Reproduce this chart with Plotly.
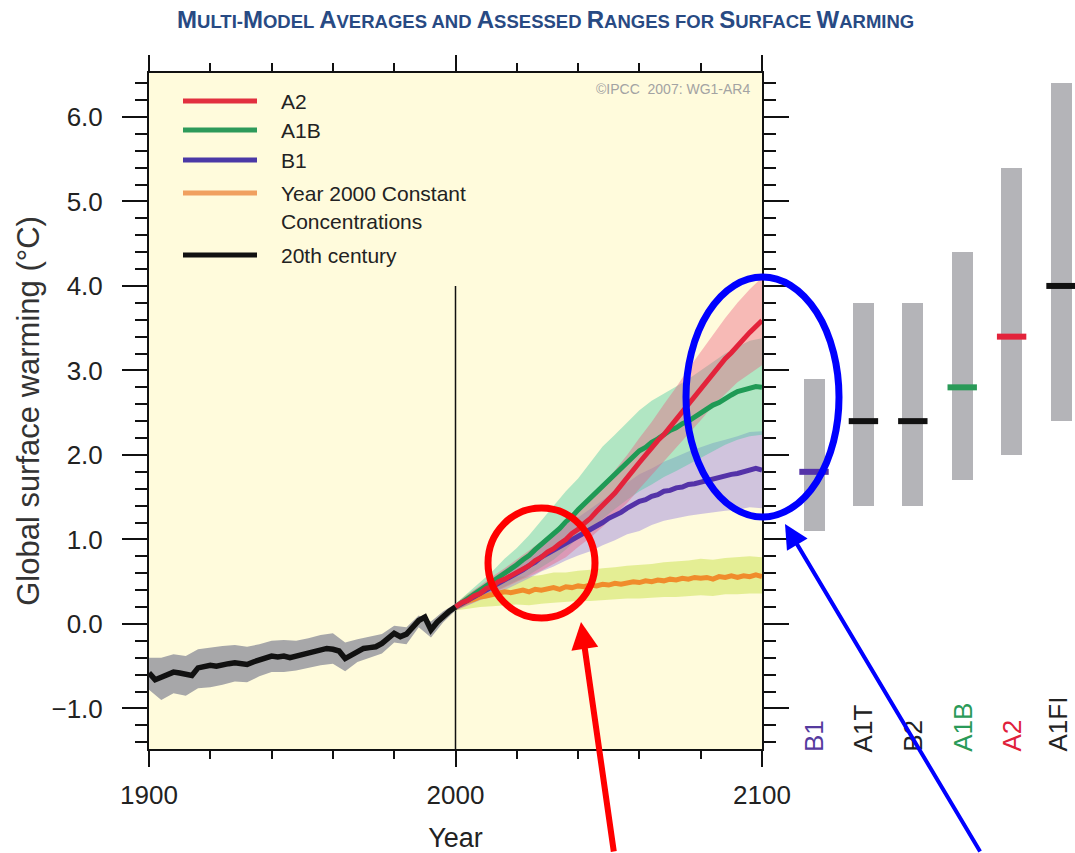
import plotly.graph_objects as go

# ---------------------------------------------------------------- data
# 20th-century model mean (2-year steps) and its spread (4-year steps)
hist_years = list(range(1900, 2001, 2))
hist_mean = [-0.58, -0.66, -0.63, -0.60, -0.57, -0.58, -0.60, -0.61, -0.52, -0.51,
             -0.49, -0.50, -0.48, -0.47, -0.46, -0.47, -0.48, -0.45, -0.43, -0.40,
             -0.38, -0.39, -0.38, -0.40, -0.38, -0.36, -0.35, -0.33, -0.31, -0.29,
             -0.30, -0.32, -0.41, -0.37, -0.33, -0.29, -0.28, -0.27, -0.23, -0.16,
             -0.11, -0.15, -0.12, -0.04, 0.04, 0.08, -0.07, 0.02, 0.09, 0.15, 0.20]
hist_band_years = list(range(1900, 2001, 4))
hist_hi = [-0.40, -0.40, -0.36, -0.38, -0.30, -0.28, -0.26, -0.25, -0.27, -0.24,
           -0.20, -0.19, -0.20, -0.17, -0.13, -0.11, -0.22, -0.18, -0.15, -0.12,
           -0.02, -0.04, 0.10, 0.03, 0.15, 0.24]
hist_lo = [-0.78, -0.90, -0.82, -0.85, -0.76, -0.75, -0.72, -0.68, -0.69, -0.62,
           -0.57, -0.57, -0.55, -0.52, -0.49, -0.47, -0.56, -0.45, -0.40, -0.35,
           -0.22, -0.24, -0.04, -0.16, 0.02, 0.16]

# Scenario projections: means every 2 years, +/-1 sd ranges every 4 years
proj_years = list(range(2000, 2101, 2))
band_years = list(range(2000, 2101, 4))

a2_mean = [0.20, 0.25, 0.28, 0.33, 0.36, 0.42, 0.44, 0.50, 0.53, 0.57,
           0.61, 0.66, 0.69, 0.75, 0.79, 0.85, 0.89, 0.95, 1.00, 1.07,
           1.12, 1.19, 1.25, 1.33, 1.40, 1.48, 1.55, 1.64, 1.72, 1.82,
           1.91, 2.00, 2.08, 2.17, 2.24, 2.33, 2.42, 2.51, 2.60, 2.69,
           2.79, 2.88, 2.97, 3.05, 3.14, 3.21, 3.30, 3.37, 3.45, 3.52, 3.59]
a2_hi = [0.24, 0.35, 0.46, 0.56, 0.66, 0.76, 0.87, 0.98, 1.10, 1.22, 1.34, 1.48, 1.64,
         1.82, 2.00, 2.20, 2.39, 2.60, 2.80, 3.02, 3.22, 3.43, 3.62, 3.80, 3.96, 4.10]
a2_lo = [0.16, 0.22, 0.29, 0.36, 0.43, 0.50, 0.56, 0.63, 0.71, 0.79, 0.91, 1.02, 1.15,
         1.29, 1.43, 1.60, 1.76, 1.92, 2.08, 2.25, 2.41, 2.58, 2.72, 2.86, 2.96, 3.06]

a1b_mean = [0.20, 0.25, 0.30, 0.34, 0.40, 0.45, 0.49, 0.55, 0.60, 0.65,
            0.70, 0.76, 0.81, 0.88, 0.94, 1.00, 1.07, 1.13, 1.21, 1.27,
            1.35, 1.42, 1.50, 1.57, 1.65, 1.72, 1.78, 1.85, 1.91, 1.99,
            2.05, 2.09, 2.15, 2.19, 2.24, 2.29, 2.32, 2.37, 2.40, 2.45,
            2.49, 2.54, 2.59, 2.62, 2.67, 2.71, 2.75, 2.77, 2.79, 2.81, 2.80]
a1b_hi = [0.24, 0.37, 0.50, 0.62, 0.77, 0.90, 1.05, 1.22, 1.39, 1.57, 1.72, 1.91, 2.10,
          2.24, 2.39, 2.53, 2.64, 2.72, 2.81, 2.90, 3.00, 3.10, 3.20, 3.28, 3.35, 3.38]
a1b_lo = [0.16, 0.24, 0.31, 0.37, 0.44, 0.51, 0.58, 0.67, 0.76, 0.88, 1.02, 1.13, 1.25,
          1.36, 1.47, 1.57, 1.65, 1.74, 1.81, 1.89, 1.97, 2.05, 2.12, 2.18, 2.22, 2.24]

b1_mean = [0.20, 0.24, 0.28, 0.32, 0.36, 0.40, 0.43, 0.48, 0.52, 0.55,
           0.60, 0.64, 0.69, 0.73, 0.79, 0.83, 0.87, 0.91, 0.96, 0.99,
           1.03, 1.07, 1.11, 1.15, 1.20, 1.25, 1.28, 1.32, 1.37, 1.41,
           1.45, 1.47, 1.51, 1.53, 1.57, 1.58, 1.61, 1.62, 1.65, 1.66,
           1.68, 1.70, 1.72, 1.73, 1.75, 1.77, 1.78, 1.80, 1.82, 1.84, 1.82]
b1_hi = [0.24, 0.34, 0.44, 0.54, 0.64, 0.73, 0.84, 0.96, 1.07, 1.18, 1.26, 1.36, 1.46,
         1.56, 1.66, 1.77, 1.84, 1.92, 1.98, 2.04, 2.09, 2.14, 2.18, 2.22, 2.27, 2.28]
b1_lo = [0.16, 0.22, 0.28, 0.33, 0.40, 0.47, 0.54, 0.62, 0.68, 0.75, 0.81, 0.86, 0.93,
         0.99, 1.06, 1.10, 1.17, 1.22, 1.25, 1.28, 1.30, 1.32, 1.34, 1.35, 1.38, 1.37]

const_mean = [0.20, 0.24, 0.27, 0.29, 0.32, 0.33, 0.35, 0.36, 0.38, 0.37,
              0.39, 0.40, 0.38, 0.41, 0.40, 0.42, 0.43, 0.41, 0.44, 0.43,
              0.45, 0.44, 0.46, 0.45, 0.47, 0.46, 0.48, 0.47, 0.49, 0.50,
              0.49, 0.51, 0.50, 0.52, 0.51, 0.53, 0.52, 0.54, 0.53, 0.55,
              0.54, 0.55, 0.53, 0.56, 0.55, 0.57, 0.55, 0.57, 0.56, 0.58, 0.56]
const_hi = [0.24, 0.36, 0.44, 0.50, 0.55, 0.56, 0.56, 0.58, 0.61, 0.61, 0.63, 0.64, 0.66,
            0.67, 0.69, 0.70, 0.71, 0.73, 0.74, 0.75, 0.77, 0.76, 0.78, 0.79, 0.80, 0.79]
const_lo = [0.16, 0.18, 0.20, 0.21, 0.22, 0.23, 0.22, 0.24, 0.25, 0.26, 0.27, 0.27, 0.28,
            0.29, 0.30, 0.30, 0.31, 0.32, 0.32, 0.33, 0.34, 0.33, 0.35, 0.35, 0.36, 0.36]

# Assessed likely ranges and best estimates at 2090-2099
range_names = ["B1", "A1T", "B2", "A1B", "A2", "A1FI"]
range_low = [1.1, 1.4, 1.4, 1.7, 2.0, 2.4]
range_high = [2.9, 3.8, 3.8, 4.4, 5.4, 6.4]
range_best = [1.8, 2.4, 2.4, 2.8, 3.4, 4.0]

y_tick_vals = [-1, 0, 1, 2, 3, 4, 5, 6]
y_tick_text = ["\u22121.0", "0.0", "1.0", "2.0", "3.0", "4.0", "5.0", "6.0"]
x_tick_vals = [1900, 2000, 2100]

# ---------------------------------------------------------------- styling
FONT = "Liberation Sans, Arial, sans-serif"
W, H = 1075, 853
ML, MR, MT, MB = 149, 0, 73, 104
PW, PH = W - ML - MR, H - MT - MB
MAIN_FRAC = 613 / PW
Y_RANGE = [-1.48, 6.52]

RED, GREEN, PURPLE, ORANGE = "#e3233b", "#1f9a55", "#5433a8", "#f08c2c"
mark_colors = [PURPLE, "#111111", "#111111", "#2a9a58", "#e3233b", "#111111"]
label_colors = ["#553a9e", "#222222", "#222222", "#2a9a58", "#e0203a", "#222222"]


def px(xpix):
    """Horizontal pixel position -> paper fraction."""
    return (xpix - ML) / PW


def py(ypix):
    """Vertical pixel position -> paper fraction."""
    return (H - MB - ypix) / PH


fig = go.Figure()


def band(xs, lo, hi, color):
    fig.add_trace(go.Scatter(x=xs, y=hi, mode="lines", line=dict(width=0),
                             hoverinfo="skip", showlegend=False))
    fig.add_trace(go.Scatter(x=xs, y=lo, mode="lines", line=dict(width=0),
                             fill="tonexty", fillcolor=color,
                             hoverinfo="skip", showlegend=False))


band(hist_band_years, hist_lo, hist_hi, "#a7a7a9")
band(band_years, const_lo, const_hi, "rgba(205,228,90,0.55)")
band(band_years, b1_lo, b1_hi, "rgba(150,128,222,0.45)")
band(band_years, a1b_lo, a1b_hi, "rgba(70,200,160,0.42)")
band(band_years, a2_lo, a2_hi, "rgba(236,90,125,0.40)")

for ys, col in [(const_mean, ORANGE), (b1_mean, PURPLE), (a1b_mean, GREEN), (a2_mean, RED)]:
    fig.add_trace(go.Scatter(x=proj_years, y=ys, mode="lines",
                             line=dict(color=col, width=5), showlegend=False))
fig.add_trace(go.Scatter(x=hist_years, y=hist_mean, mode="lines",
                         line=dict(color="#111111", width=5.5), showlegend=False))

# Likely-range bars with best-estimate marks
fig.add_trace(go.Bar(x=range_names, y=[h - l for h, l in zip(range_high, range_low)],
                     base=range_low, width=0.425, marker=dict(color="#b4b4b8", line=dict(width=0)),
                     xaxis="x2", yaxis="y2", showlegend=False))
fig.add_trace(go.Scatter(x=range_names, y=range_best, mode="markers",
                         marker=dict(symbol="line-ew", size=21,
                                     line=dict(width=6, color=mark_colors)),
                         xaxis="x2", yaxis="y2", showlegend=False))

axis_common = dict(showgrid=False, zeroline=False, showline=True, linecolor="#111111",
                   linewidth=2, mirror="ticks", ticks="outside", tickcolor="#111111",
                   tickwidth=2, automargin=False,
                   tickfont=dict(family=FONT, size=26, color="#222222"))

fig.update_layout(
    width=W, height=H,
    margin=dict(l=ML, r=MR, t=MT, b=MB, autoexpand=False),
    paper_bgcolor="white", plot_bgcolor="white",
    font=dict(family=FONT),
    xaxis=dict(**axis_common, domain=[0, MAIN_FRAC], range=[1900, 2100],
               tickvals=x_tick_vals, ticklen=16, ticklabelstandoff=6,
               minor=dict(tickvals=list(range(1920, 2100, 20)), ticks="outside",
                          ticklen=8, tickwidth=1.5, tickcolor="#111111"),
               title=dict(text="Year", font=dict(family=FONT, size=27, color="#222222"),
                          standoff=19)),
    yaxis=dict(**axis_common, range=Y_RANGE, tickvals=y_tick_vals, ticktext=y_tick_text,
               ticklen=25, ticklabelstandoff=14,
               minor=dict(dtick=0.2, tick0=0, ticks="outside", ticklen=12,
                          tickwidth=1.5, tickcolor="#111111"),
               title=dict(text="Global surface warming (\u00b0C)",
                          font=dict(family=FONT, size=31, color="#333333"), standoff=3)),
    xaxis2=dict(domain=[MAIN_FRAC, 1], range=[-1.053, 5.283], type="category",
                categoryorder="array", categoryarray=range_names, visible=False,
                anchor="y2", automargin=False),
    yaxis2=dict(range=Y_RANGE, visible=False, anchor="x2", automargin=False),
    bargap=0,
)

shapes = [
    dict(type="rect", xref="x domain", yref="y domain", x0=0, x1=1, y0=0, y1=1,
         fillcolor="#fffbdc", line=dict(width=0), layer="below"),
    dict(type="line", xref="x", yref="y", x0=2000, x1=2000, y0=Y_RANGE[0], y1=4.0,
         line=dict(color="#111111", width=1.5), layer="below"),
]

annotations = []

# Legend drawn as swatches + labels
legend_rows = [("A2", "#e2303f", 101), ("A1B", "#2e9a5a", 130), ("B1", "#4a38a6", 160),
               ("Year 2000 Constant", "#f0a060", 193), ("20th century", "#111111", 255)]
for label, col, ypix in legend_rows:
    shapes.append(dict(type="line", xref="paper", yref="paper", x0=px(183), x1=px(257),
                       y0=py(ypix), y1=py(ypix), line=dict(color=col, width=5)))
    annotations.append(dict(xref="paper", yref="paper", x=px(279), y=py(ypix), text=label,
                            showarrow=False, xanchor="left", yanchor="middle",
                            font=dict(family=FONT, size=21, color="#222222")))
annotations.append(dict(xref="paper", yref="paper", x=px(279), y=py(222), text="Concentrations",
                        showarrow=False, xanchor="left", yanchor="middle",
                        font=dict(family=FONT, size=21, color="#222222")))

annotations.append(dict(xref="paper", yref="paper", x=px(752), y=py(89),
                        text="\u00a9IPCC  2007: WG1-AR4", showarrow=False,
                        xanchor="right", yanchor="middle",
                        font=dict(family=FONT, size=14, color="#a3a3a3")))

# Scenario labels under the range bars (the last one nudged in from the edge)
for i, (name, col) in enumerate(zip(range_names, label_colors)):
    annotations.append(dict(xref="x2", yref="paper", x=name, y=0, yshift=-4,
                            xshift=-4 if i == len(range_names) - 1 else 0,
                            text=name, textangle=-90, showarrow=False, borderpad=0,
                            xanchor="center", yanchor="bottom",
                            font=dict(family=FONT, size=26, color=col)))

# Title in small capitals
title_text = "Multi-Model Averages and Assessed Ranges for Surface Warming"
parts = []
for ch in title_text:
    if ch.isupper():
        parts.append('<span style="font-size:24px">%s</span>' % ch)
    else:
        parts.append('<span style="font-size:18.5px">%s</span>' % ch.upper())
annotations.append(dict(xref="paper", yref="paper", x=px(545), y=py(20),
                        text="<b>" + "".join(parts) + "</b>", showarrow=False,
                        xanchor="center", yanchor="middle",
                        font=dict(family=FONT, size=24, color="#284a83")))

# Highlight rings and pointers
shapes.append(dict(type="circle", xref="paper", yref="paper",
                   x0=px(488), x1=px(595), y0=py(618), y1=py(508),
                   line=dict(color="#ff0000", width=7)))
shapes.append(dict(type="circle", xref="paper", yref="paper",
                   x0=px(686), x1=px(839), y0=py(517), y1=py(277),
                   line=dict(color="#0000ff", width=7)))
annotations.append(dict(xref="paper", yref="paper", x=px(581), y=py(622), text="",
                        showarrow=True, ax=33, ay=260, axref="pixel", ayref="pixel",
                        arrowhead=2, arrowsize=0.9, arrowwidth=6, arrowcolor="#ff0000",
                        standoff=0))
annotations.append(dict(xref="paper", yref="paper", x=px(785), y=py(524), text="",
                        showarrow=True, ax=196, ay=357, axref="pixel", ayref="pixel",
                        arrowhead=2, arrowsize=1.2, arrowwidth=4, arrowcolor="#0000ff",
                        standoff=0))

fig.update_layout(shapes=shapes, annotations=annotations)
fig.write_html("out.html")
